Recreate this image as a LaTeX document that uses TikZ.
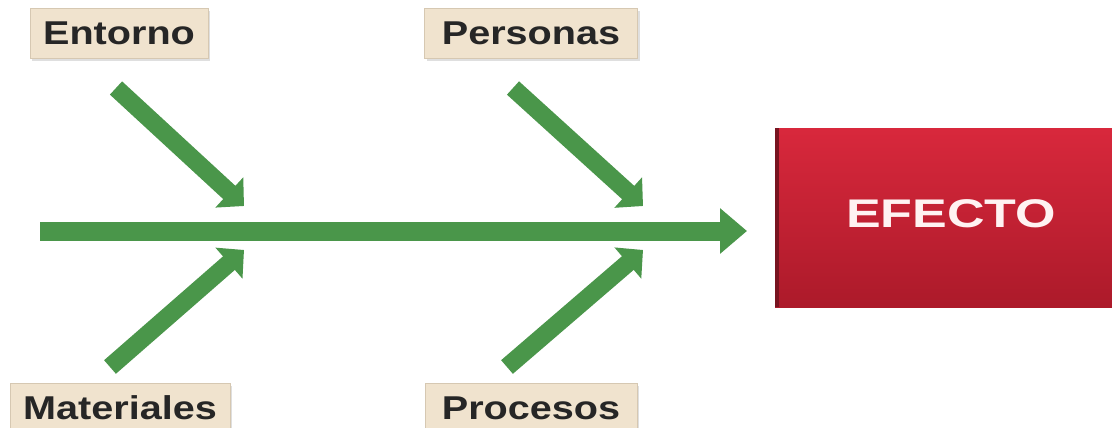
\documentclass[tikz,border=0pt]{standalone}
\usepackage{fontspec}
\setmainfont{Liberation Sans}
\usetikzlibrary{arrows.meta,shadows}
\definecolor{fishgreen}{RGB}{74,150,74}
\definecolor{labelfill}{RGB}{240,227,206}
\definecolor{labeldraw}{RGB}{214,200,178}
\definecolor{efTop}{RGB}{216,40,60}
\definecolor{efBot}{RGB}{172,26,42}
\definecolor{efEdge}{RGB}{120,20,32}
\newcommand{\wide}[2]{\scalebox{#1}[1]{#2}}
\begin{document}
\begin{tikzpicture}[x=1pt,y=-1pt,
  catbox/.style={fill=labelfill, draw=labeldraw, line width=0.8pt,
    minimum height=50pt, inner sep=0pt,
    font=\fontsize{33}{36}\selectfont\bfseries, text=black!85,
    drop shadow={shadow xshift=2pt, shadow yshift=-3pt, opacity=0.25}},
  bone/.style={line width=18pt, draw=fishgreen,
    -{Triangle[length=20pt,width=40pt]}},
  spine/.style={line width=19pt, draw=fishgreen,
    -{Triangle[length=27pt,width=44pt]}},
  efbox/.style={top color=efTop, bottom color=efBot, draw=none,
    minimum width=345pt, minimum height=179pt, inner sep=0pt, anchor=north west},
  eftext/.style={font=\fontsize{40}{44}\selectfont\bfseries, text=white!95!red}
]
\clip (0,0) rectangle (1112,428);
\fill[white] (0,0) rectangle (1112,428);

% category labels
\node[catbox, minimum width=178pt] (entorno) at (119,33) {\wide{1.2}{Entorno}};
\node[catbox, minimum width=213pt] (personas) at (531,33) {\wide{1.2}{Personas}};
\node[catbox, minimum width=220pt] (materiales) at (120,408) {\wide{1.2}{Materiales}};
\node[catbox, minimum width=212pt] (procesos) at (531,408) {\wide{1.2}{Procesos}};

% effect box
\node[efbox] (efecto) at (775,128) {};
\fill[efEdge] (efecto.north west) rectangle ++(4,179);
\node[eftext] (efectotext) at (951,214) {\wide{1.3}{EFECTO}};

% spine
\coordinate (s0) at (40,231);
\coordinate (s1) at (747,231);
\draw[spine] (s0) -- (s1);

% bones
\coordinate (e0) at (116,88);
\coordinate (e1) at (244,206);
\coordinate (p0) at (513,88);
\coordinate (p1) at (643,206);
\coordinate (m0) at (110,367);
\coordinate (m1) at (244,250);
\coordinate (r0) at (507,367);
\coordinate (r1) at (643,250);
\draw[bone] (e0) -- (e1);
\draw[bone] (p0) -- (p1);
\draw[bone] (m0) -- (m1);
\draw[bone] (r0) -- (r1);
\end{tikzpicture}
\end{document}
